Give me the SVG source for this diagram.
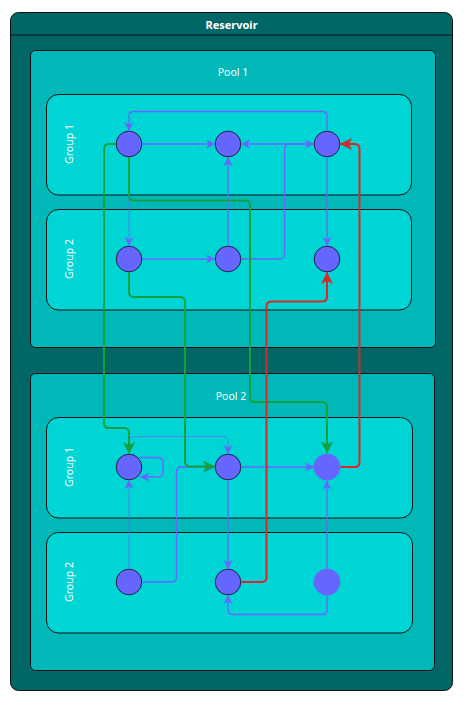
<svg xmlns="http://www.w3.org/2000/svg" width="471" height="713" viewBox="0 0 471 713">
<style>
.res{fill:#006666;stroke:#111;stroke-width:1}
.pool{fill:#00b8b8;stroke:#111;stroke-width:1}
.grp{fill:#00d5d5;stroke:#111;stroke-width:1}
.nd{fill:#6666ff;stroke:#222244;stroke-width:1}
.nd2{fill:#6666ff;stroke:none}
.t{font-family:"Noto Sans","Open Sans",sans-serif;fill:#ffffff;text-anchor:middle}
.e{fill:none;stroke:#6666ff;stroke-width:1.3}
.ef{fill:none;stroke:#6666ff;stroke-width:0.7}
.g{fill:none;stroke:#14a03c;stroke-width:2}
.r{fill:none;stroke:#d62a2a;stroke-width:2}
</style>
<defs>
<marker id="ab" markerUnits="userSpaceOnUse" markerWidth="10" markerHeight="10" refX="9" refY="4.5" orient="auto"><path d="M0,0 L9,4.5 L0,9 L2.5,4.5 z" fill="#6666ff"/></marker>
<marker id="ag" markerUnits="userSpaceOnUse" markerWidth="13" markerHeight="13" refX="12" refY="6" orient="auto"><path d="M0,0 L12,6 L0,12 L3,6 z" fill="#14a03c"/></marker>
<marker id="ar" markerUnits="userSpaceOnUse" markerWidth="13" markerHeight="13" refX="12" refY="6" orient="auto"><path d="M0,0 L12,6 L0,12 L3,6 z" fill="#d62a2a"/></marker>
</defs>
<g id="reservoir">
<rect class="res" x="10.5" y="12.5" width="442" height="678" rx="8"/>
<line x1="10.5" y1="35" x2="452.5" y2="35" stroke="#111" stroke-width="1"/>
<text class="t" x="231.5" y="29" font-size="11" font-weight="bold">Reservoir</text>
</g>
<g id="pool1">
<rect class="pool" x="30.5" y="50.5" width="405" height="297" rx="5"/>
<text class="t" x="233" y="76" font-size="10.5">Pool 1</text>
</g>
<g id="pool2">
<rect class="pool" x="30.5" y="373.5" width="404" height="297" rx="5"/>
<text class="t" x="231" y="400" font-size="10.5">Pool 2</text>
</g>
<g id="p1g1">
<rect class="grp" x="46.5" y="94.5" width="365" height="100.5" rx="12"/>
<text class="t" x="69" y="144" font-size="10.5" dominant-baseline="central" transform="rotate(-90 69 144)">Group 1</text>
</g>
<g id="p1g2">
<rect class="grp" x="46.5" y="209.5" width="365" height="100.5" rx="12"/>
<text class="t" x="69" y="259" font-size="10.5" dominant-baseline="central" transform="rotate(-90 69 259)">Group 2</text>
</g>
<g id="p2g1">
<rect class="grp" x="46.5" y="417.5" width="366" height="100.5" rx="12"/>
<text class="t" x="69" y="467" font-size="10.5" dominant-baseline="central" transform="rotate(-90 69 467)">Group 1</text>
</g>
<g id="p2g2">
<rect class="grp" x="46.5" y="532.5" width="366" height="100.5" rx="12"/>
<text class="t" x="69" y="582" font-size="10.5" dominant-baseline="central" transform="rotate(-90 69 582)">Group 2</text>
</g>
<g id="n_p1g1_a"><circle class="nd" cx="129" cy="144" r="12.8"/></g>
<g id="n_p1g1_b"><circle class="nd" cx="228" cy="144" r="12.8"/></g>
<g id="n_p1g1_c"><circle class="nd" cx="327" cy="144" r="12.8"/></g>
<g id="n_p1g2_a"><circle class="nd" cx="129" cy="259" r="12.8"/></g>
<g id="n_p1g2_b"><circle class="nd" cx="228" cy="259" r="12.8"/></g>
<g id="n_p1g2_c"><circle class="nd" cx="327" cy="259" r="12.8"/></g>
<g id="n_p2g1_a"><circle class="nd" cx="129" cy="467" r="12.8"/></g>
<g id="n_p2g1_b"><circle class="nd" cx="228" cy="467" r="12.8"/></g>
<g id="n_p2g1_c"><circle class="nd2" cx="327" cy="467" r="13.3"/></g>
<g id="n_p2g2_a"><circle class="nd" cx="129" cy="582" r="12.8"/></g>
<g id="n_p2g2_b"><circle class="nd" cx="228" cy="582" r="12.8"/></g>
<g id="n_p2g2_c"><circle class="nd2" cx="327" cy="582" r="13.3"/></g>
<g id="connectors">
<path class="e" d="M142,144 H215" marker-end="url(#ab)"/>
<path class="e" d="M327,131 V116 Q327,111.5 322,111.5 H134 Q129,111.5 129,116 V131" marker-end="url(#ab)"/>
<path class="e" d="M314,144 H241" marker-end="url(#ab)"/>
<path class="e" d="M241,259 H280 Q284.5,259 284.5,254 V149 Q284.5,144 289.5,144 H314" marker-end="url(#ab)"/>
<path class="e" d="M228,246 V157" marker-end="url(#ab)"/>
<path class="ef" d="M129,157 V246" marker-end="url(#ab)"/>
<path class="e" d="M142,259 H215" marker-end="url(#ab)"/>
<path class="e" d="M327,157 V246" marker-end="url(#ab)"/>
<path class="e" d="M139,457.5 H158 Q163,457.5 163,462.5 V472 Q163,477 158,477 H140" marker-end="url(#ab)"/>
<path class="ef" d="M129,454 V441.5 Q129,436.5 134,436.5 H223 Q228,436.5 228,441.5 V454" marker-end="url(#ab)"/>
<path class="e" d="M241,467 H314" marker-end="url(#ab)"/>
<path class="e" d="M228,480 V569" marker-end="url(#ab)"/>
<path class="ef" d="M129,569 V480" marker-end="url(#ab)"/>
<path class="e" d="M142,582 H172 Q176.5,582 176.5,577 V472 Q176.5,467 181.5,467 H215" marker-end="url(#ab)"/>
<path class="e" d="M327,569 V480.5" marker-end="url(#ab)"/>
<path class="e" d="M327,595.5 V609.5 Q327,614.5 322,614.5 H233 Q228,614.5 228,609.5 V595" marker-end="url(#ab)"/>
<path class="g" d="M116,144 H109 Q104,144 104,149 V423 Q104,428 109,428 H124 Q129,428 129,433 V454" marker-end="url(#ag)"/>
<path class="g" d="M129,157 V195.5 Q129,200.5 134,200.5 H245 Q250,200.5 250,205.5 V397 Q250,402 255,402 H322 Q327,402 327,407 V453.5" marker-end="url(#ag)"/>
<path class="g" d="M129,272 V292 Q129,297 134,297 H180 Q185,297 185,302 V461.5 Q185,466.5 190,466.5 H215" marker-end="url(#ag)"/>
<path class="r" d="M340.5,467 H354.5 Q359.5,467 359.5,462 V149 Q359.5,144 354.5,144 H340" marker-end="url(#ar)"/>
<path class="r" d="M241,582 H261.5 Q266.5,582 266.5,577 V306.5 Q266.5,301.5 271.5,301.5 H322 Q327,301.5 327,296.5 V272" marker-end="url(#ar)"/>
</g>
</svg>
